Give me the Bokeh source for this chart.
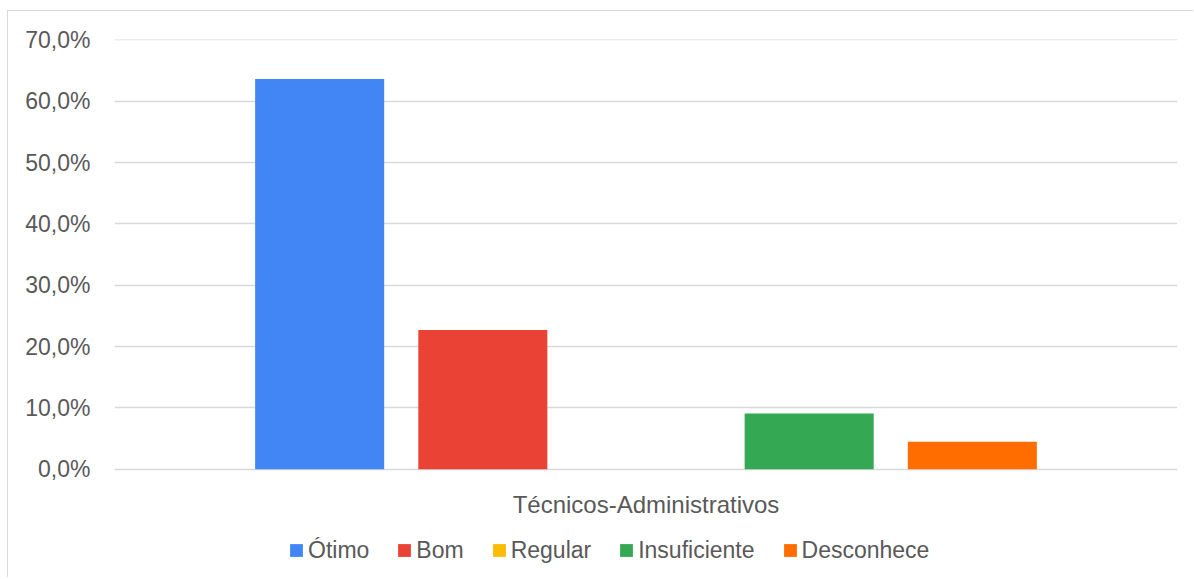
from bokeh.plotting import figure
from bokeh.models import FactorRange, Range1d, Legend, LegendItem, FixedTicker, ColumnDataSource
from bokeh.transform import dodge
from bokeh.core.properties import value
from bokeh.embed import file_html
from bokeh.resources import INLINE

# ---- data ----
categories = ["Técnicos-Administrativos"]
series = ["Ótimo", "Bom", "Regular", "Insuficiente", "Desconhece"]
values = [63.6, 22.7, 0.0, 9.1, 4.5]
colors = ["#4285F4", "#EA4335", "#FBBC04", "#34A853", "#FF6D01"]
y_ticks = [0, 10, 20, 30, 40, 50, 60, 70]
y_tick_labels = ["0,0%", "10,0%", "20,0%", "30,0%", "40,0%", "50,0%", "60,0%", "70,0%"]

FONT = "Liberation Sans"
TXT = "#595959"

# frame spans down to the bottom so that category label and legend sit inside it
p = figure(
    x_range=FactorRange(*categories, range_padding=0),
    y_range=Range1d(-17.8, 70.05),
    width=1186, height=567,
    output_backend="svg", toolbar_location=None,
    min_border_left=106, min_border_right=17, min_border_top=28, min_border_bottom=0,
)
p.margin = (10, 0, 0, 7)
p.styles = {"border-left": "1px solid #d9d9d9", "border-top": "1px solid #d9d9d9"}
p.outline_line_color = None
p.background_fill_color = "white"
p.border_fill_color = "white"

data = {"cat": categories}
for s, v in zip(series, values):
    data[s] = [v]
src = ColumnDataSource(data)

bar_w = 0.1214
step = 0.1535
renderers = []
for i, (s, c) in enumerate(zip(series, colors)):
    r = p.vbar(x=dodge("cat", (i - 2) * step, range=p.x_range), top=s, width=bar_w,
               source=src, fill_color=c, line_color=None)
    renderers.append(r)

# category label under the zero line
p.text(x=categories, y=[-5.75], text=categories, text_font=value(FONT),
       text_font_size="24px", text_color=TXT, text_align="center",
       text_baseline="alphabetic")

# axes
p.yaxis.ticker = FixedTicker(ticks=y_ticks)
p.yaxis.major_label_overrides = {t: l for t, l in zip(y_ticks, y_tick_labels)}
p.yaxis.axis_line_color = None
p.yaxis.major_tick_line_color = None
p.yaxis.minor_tick_line_color = None
p.yaxis.major_label_standoff = 18
p.yaxis.major_label_text_font = FONT
p.yaxis.major_label_text_font_size = "23px"
p.yaxis.major_label_text_color = TXT

p.xaxis.visible = False
p.xgrid.visible = False
p.ygrid.grid_line_color = "#d9d9d9"
p.ygrid.grid_line_width = 1.5

legend = Legend(
    items=[LegendItem(label=s, renderers=[r]) for s, r in zip(series, renderers)],
    orientation="horizontal",
    location=(174, 13),
    label_text_font=FONT, label_text_font_size="23px", label_text_color=TXT,
    label_height=30,
    glyph_width=16, glyph_height=16, label_standoff=4, spacing=27,
    padding=0, margin=0,
    border_line_color=None, background_fill_alpha=0,
)
p.add_layout(legend)

open("out.html", "w").write(file_html(p, INLINE))
